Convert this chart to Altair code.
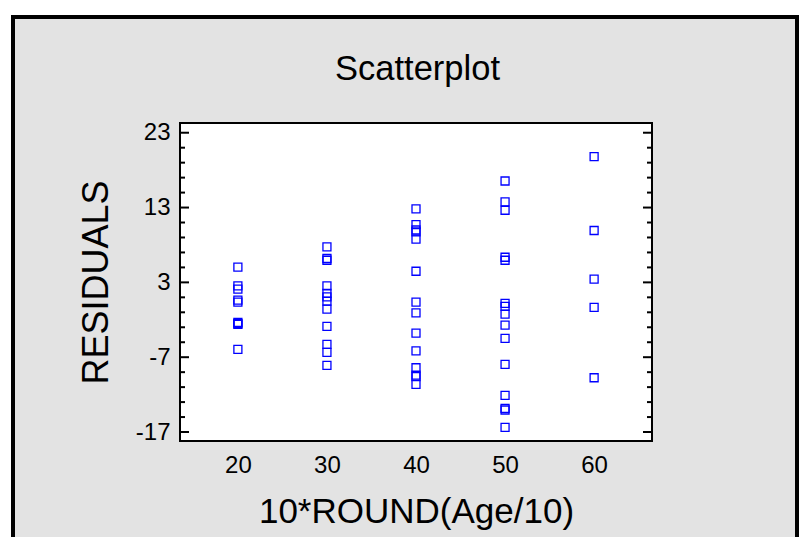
import altair as alt
import pandas as pd

# ---- data ----
age_groups = [20, 30, 40, 50, 60]
res_20 = [5.03, 2.53, 2.09, 0.62, 0.36, -2.35, -2.50, -2.62, -5.96]
res_30 = [7.74, 6.19, 5.96, 2.53, 1.52, 1.06, 0.49, -0.58, -2.89, -5.29, -6.36, -8.09]
res_40 = [12.81, 10.73, 10.00, 9.74, 8.77, 4.49, 0.36, -1.07, -3.78, -6.15, -8.41, -9.39, -9.59, -10.63]
res_50 = [16.55, 13.75, 12.64, 6.36, 5.96, 0.18, -0.22, -1.25, -2.71, -4.49, -7.95, -12.09, -13.84, -14.06, -16.37]
res_60 = [19.81, 9.93, 3.43, -0.35, -9.75]

y_major = [-17, -7, 3, 13, 23]
y_minor = [-15, -13, -11, -9, -5, -3, -1, 1, 5, 7, 9, 11, 15, 17, 19, 21]
x_ticks = [20, 30, 40, 50, 60]
title_text = "Scatterplot"

rows = []
for g, vals in zip(age_groups, [res_20, res_30, res_40, res_50, res_60]):
    for v in vals:
        rows.append({"age": g, "res": v})
points_df = pd.DataFrame(rows)
major_df = pd.DataFrame({"res": y_major})
minor_df = pd.DataFrame({"res": y_minor})

W, H = 472, 318
FONT = "Liberation Sans"

xscale = alt.Scale(domain=[13.5, 66.5], nice=False, zero=False)
yscale = alt.Scale(domain=[-18.2, 24.3], nice=False, zero=False)

x_axis = alt.Axis(values=x_ticks, ticks=False, tickSize=0, domain=False, grid=False,
                  labelPadding=12, labelFontSize=24, labelFont=FONT, labelColor="black",
                  labelExpr="'' + datum.value",
                  title="10*ROUND(Age/10)", titleFontSize=35, titleFont=FONT,
                  titleFontWeight="normal", titleColor="black",
                  titleBaseline="alphabetic", titleY=81, zindex=1)
y_axis = alt.Axis(values=y_major, ticks=False, tickSize=0, domain=False, grid=False,
                  labelPadding=10, labelFontSize=24, labelFont=FONT, labelColor="black",
                  labelExpr="'' + datum.value",
                  title="RESIDUALS", titleFontSize=36, titleFont=FONT,
                  titleFontWeight="normal", titleColor="black",
                  titleBaseline="alphabetic", titleX=-73, titleY=H / 2, zindex=1)

x_enc = alt.X("age:Q", scale=xscale, axis=x_axis)
y_enc = alt.Y("res:Q", scale=yscale, axis=y_axis)

one = alt.Data(values=[{"k": 1}])

frame = alt.Chart(one).mark_rect(fill="#e3e3e3", stroke="black", strokeWidth=4).encode(
    x=alt.value(-167), x2=alt.value(617), y=alt.value(-106), y2=alt.value(440)
)
plot_bg = alt.Chart(one).mark_rect(fill="white", stroke="black", strokeWidth=2).encode(
    x=alt.value(0), x2=alt.value(W), y=alt.value(0), y2=alt.value(H)
)
title_mark = alt.Chart(alt.Data(values=[{"t": title_text}])).mark_text(
    font=FONT, fontSize=34.5, color="black", align="center", baseline="alphabetic"
).encode(text="t:N", x=alt.value(W / 2 + 1.5), y=alt.value(-43.5))

def ticks(df, x0, x1):
    return alt.Chart(df).mark_rule(color="black", strokeWidth=2).encode(
        y=y_enc, x=alt.value(x0), x2=alt.value(x1)
    )

maj_l = ticks(major_df, 0, 9)
maj_r = ticks(major_df, W - 9, W)
min_l = ticks(minor_df, 0, 5)
min_r = ticks(minor_df, W - 5, W)

pts = alt.Chart(points_df).mark_point(
    shape="square", filled=False, color="#0000ff", size=64, strokeWidth=1.3, opacity=1
).encode(x=x_enc, y=y_enc)

chart = alt.layer(frame, plot_bg, title_mark, maj_l, maj_r, min_l, min_r, pts).properties(
    width=W, height=H,
    autosize=alt.AutoSizeParams(type="none"),
    padding={"left": 172, "top": 115, "right": 147, "bottom": 96},
    background="white",
).configure_view(stroke=None, fill=None)

chart.save("out.html", embed_options={"renderer": "svg", "actions": False})
